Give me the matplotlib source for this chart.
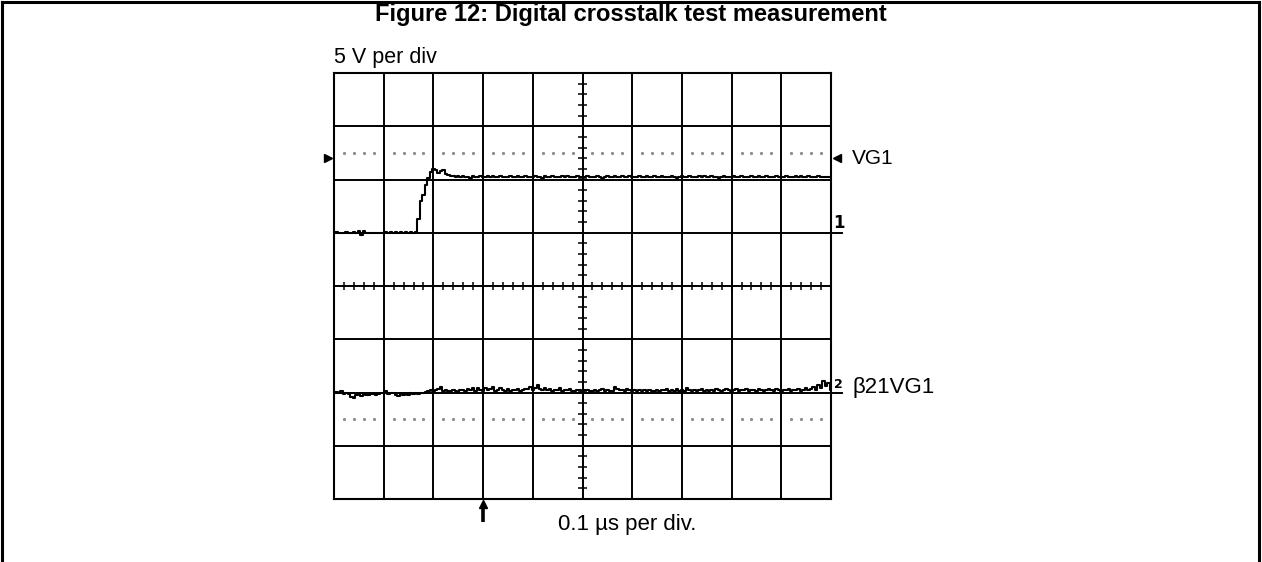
import numpy as np
import matplotlib
matplotlib.use('Agg')
import matplotlib.pyplot as plt
from matplotlib.lines import Line2D

plt.rcParams['font.family'] = ['Liberation Sans', 'DejaVu Sans']

title = 'Figure 12: Digital crosstalk test measurement'
volt_label = '5 V per div'
time_label = '0.1 µs per div.'
ch1_label = 'VG1'
ch2_label = 'β21VG1'

# screen is 10 x 8 divisions, values below are in divisions
n_xdiv = 10
n_ydiv = 8
ch1_ref = 1.0     # channel 1 ground marker
ch2_ref = -2.0    # channel 2 ground marker
dot_levels = [2.5, -2.5]
trigger_x = 3.0
ch1_arrow_y = 2.4

# channel 1: VG1 step, sampled every 0.05 div
vg1 = [
    1.00, 1.01, 1.00, 0.99, 1.00, 1.01, 1.00, 1.00, 1.02, 0.99,
    1.03, 0.96, 1.04, 0.99, 1.00, 1.00, 0.99, 1.00, 1.00, 1.00,
    0.99, 1.01, 1.00, 1.02, 0.99, 1.01, 1.00, 1.02, 1.00, 1.01,
    1.00, 1.01, 1.00,
    1.02, 1.25, 1.60, 1.70, 1.90, 2.02, 2.15, 2.20, 2.18, 2.12,
    2.16, 2.18, 2.10, 2.08, 2.06,
    2.06, 2.05, 2.07, 2.04, 2.06, 2.05, 2.05, 2.03, 2.06, 2.04, 2.05, 2.06,
    2.05, 2.04, 2.06, 2.05, 2.07, 2.04, 2.05, 2.06, 2.04, 2.05,
    2.05, 2.06, 2.04, 2.05, 2.07, 2.05, 2.04, 2.06, 2.05, 2.05,
    2.04, 2.06, 2.05, 2.05, 2.03, 2.06, 2.05, 2.04, 2.06, 2.05,
    2.05, 2.04, 2.06, 2.05, 2.07, 2.05, 2.04, 2.05, 2.06, 2.05,
    2.05, 2.04, 2.06, 2.05, 2.05, 2.04, 2.06, 2.05, 2.03, 2.05,
    2.06, 2.05, 2.04, 2.06, 2.05, 2.05, 2.07, 2.04, 2.05, 2.06,
    2.05, 2.04, 2.05, 2.06, 2.05, 2.04, 2.06, 2.05, 2.05, 2.07,
    2.04, 2.05, 2.06, 2.05, 2.04, 2.05, 2.06, 2.05, 2.03, 2.05,
    2.06, 2.05, 2.04, 2.06, 2.05, 2.05, 2.04, 2.06, 2.05, 2.07,
    2.04, 2.05, 2.06, 2.05, 2.04, 2.02, 2.05, 2.06, 2.05, 2.04,
    2.05, 2.06, 2.05, 2.04, 2.06, 2.05, 2.05, 2.04, 2.06, 2.05,
    2.05, 2.07, 2.04, 2.05, 2.06, 2.05, 2.04, 2.05, 2.06, 2.05,
    2.05, 2.04, 2.06, 2.05, 2.05, 2.04, 2.06, 2.05, 2.07, 2.04,
    2.05, 2.06, 2.05, 2.04, 2.05, 2.06, 2.05, 2.04, 2.05, 2.05,
    2.05,
]

# channel 2: crosstalk seen on the other input
xtalk = [
    -2.00, -1.99, -2.01, -1.98, -2.02, -2.00, -2.03, -2.08, -2.10, -2.04,
    -2.02, -2.06, -2.03, -2.05, -2.04, -2.03, -2.02, -2.04, -2.03, -2.01,
    -2.00, -1.98, -2.02, -2.01, -2.00, -2.04, -2.06, -2.03, -2.05, -2.02,
    -2.04, -2.01, -2.03, -2.00, -2.02, -2.01, -2.00, -1.99, -1.97, -1.96,
    -1.97, -1.96, -1.94, -1.90, -1.97, -1.96, -1.98, -1.97, -1.96, -1.97,
    -1.99, -1.96, -1.95, -1.97, -1.93, -1.96, -1.92, -1.97, -1.91, -1.96,
    -1.97, -1.92, -1.96, -1.94, -1.90, -1.97, -1.95, -1.92, -1.96, -1.98,
    -1.94, -1.97, -1.96, -1.95, -1.93, -1.97, -1.96, -1.94, -1.93, -1.90,
    -1.96, -1.92, -1.86, -1.93, -1.95, -1.91, -1.96, -1.94, -1.97, -1.95,
    -1.96, -1.92, -1.97, -1.95, -1.96, -1.93, -1.97, -1.98, -1.95, -1.96,
    -1.97, -1.96, -1.95, -1.97, -1.98, -1.96, -1.97, -1.95, -1.93, -1.97,
    -1.96, -1.98, -1.97, -1.90, -1.94, -1.96, -1.95, -1.97, -1.94, -1.96,
    -1.97, -1.96, -1.98, -1.96, -1.97, -1.95, -1.97, -1.96, -1.98, -1.97,
    -1.96, -1.97, -1.95, -1.96, -1.93, -1.97, -1.96, -1.98, -1.94, -1.97,
    -1.96, -1.97, -1.92, -1.96, -1.98, -1.95, -1.97, -1.96, -1.93, -1.97,
    -1.96, -1.98, -1.95, -1.97, -1.94, -1.96, -1.97, -1.95, -1.93, -1.96,
    -1.97, -1.96, -1.94, -1.97, -1.95, -1.96, -1.93, -1.97, -1.96, -1.95,
    -1.97, -1.94, -1.96, -1.97, -1.95, -1.93, -1.96, -1.97, -1.94, -1.96,
    -1.97, -1.95, -1.96, -1.94, -1.97, -1.95, -1.96, -1.93, -1.97, -1.95,
    -1.92, -1.96, -1.94, -1.90, -1.96, -1.85, -1.92, -1.78, -1.88, -1.82,
    -1.95,
]

assert len(vg1) == len(xtalk)
t = np.linspace(0, n_xdiv, len(vg1))

W, H = 1262, 562
fig = plt.figure(figsize=(W / 100, H / 100), dpi=100)

# page frame (open at the bottom)
frame = dict(color='black', lw=2.2, transform=fig.transFigure)
fig.add_artist(Line2D([2 / W, 2 / W], [0, 1 - 2 / H], **frame))
fig.add_artist(Line2D([1 - 3 / W, 1 - 3 / W], [0, 1 - 2 / H], **frame))
fig.add_artist(Line2D([2 / W, 1 - 3 / W], [1 - 2 / H, 1 - 2 / H], **frame))

fig.text(0.5, 1 - 15 / H, title, ha='center', va='center',
         fontsize=17, fontweight='bold')

ax = fig.add_axes([334 / W, 63 / H, 497 / W, 426 / H])
ax.set_xlim(0, n_xdiv)
ax.set_ylim(-n_ydiv / 2, n_ydiv / 2)
ax.set_xticks([])
ax.set_yticks([])
for sp in ax.spines.values():
    sp.set_linewidth(1.5)

for x in range(1, n_xdiv):
    ax.axvline(x, color='black', lw=1.4, zorder=1)
for y in range(-n_ydiv // 2 + 1, n_ydiv // 2):
    ax.axhline(y, color='black', lw=1.4, zorder=1)

# minor ticks on the centre axes
minor_x = np.arange(0, n_xdiv + 0.01, 0.2)
minor_y = np.arange(-n_ydiv / 2, n_ydiv / 2 + 0.01, 0.2)
ax.vlines(minor_x, -0.08, 0.08, color='black', lw=1.1, zorder=1)
ax.hlines(minor_y, n_xdiv / 2 - 0.1, n_xdiv / 2 + 0.1, color='black', lw=1.1, zorder=1)

# dotted reference lines
dot_x = [i + f for i in range(n_xdiv) for f in (0.2, 0.4, 0.6, 0.8)]
for lev in dot_levels:
    ax.plot(dot_x, [lev] * len(dot_x), linestyle='none', marker='s',
            markersize=1.1, color='0.55', zorder=1)

ax.plot(t, vg1, color='black', lw=1.5, drawstyle='steps-mid', zorder=3)
ax.plot(t, xtalk, color='black', lw=1.5, drawstyle='steps-mid', zorder=3)

# channel markers
ax.plot([-0.12], [ch1_arrow_y], marker='>', color='black', markersize=6, clip_on=False)
ax.plot([n_xdiv + 0.12], [ch1_arrow_y], marker='<', color='black', markersize=6, clip_on=False)
for lev in (ch1_ref, ch2_ref):
    ax.plot([n_xdiv, n_xdiv + 0.22], [lev, lev], color='black', lw=1.4, clip_on=False)
ax.text(n_xdiv + 0.04, ch1_ref + 0.02, '1', ha='left', va='bottom',
        fontsize=12, fontweight='bold', family='DejaVu Sans')
ax.text(n_xdiv + 0.06, ch2_ref + 0.02, '2', ha='left', va='bottom',
        fontsize=9, fontweight='bold', family='DejaVu Sans')

ax.text(n_xdiv + 0.42, ch1_arrow_y, ch1_label, ha='left', va='center', fontsize=15)
ax.text(n_xdiv + 0.44, ch2_ref + 0.1, ch2_label, ha='left', va='center', fontsize=16)

# trigger position: shaft plus head
ax.plot([trigger_x, trigger_x], [-n_ydiv / 2 - 0.44, -n_ydiv / 2 - 0.1],
        color='black', lw=2.6, solid_capstyle='butt', clip_on=False)
ax.plot([trigger_x], [-n_ydiv / 2 - 0.09], marker='^', color='black',
        markersize=6, clip_on=False)

ax.text(0, n_ydiv / 2 + 0.3, volt_label, ha='left', va='center', fontsize=15.5)
ax.text(4.5, -n_ydiv / 2 - 0.47, time_label, ha='left', va='center', fontsize=16)

fig.savefig('out.png', dpi=100)
